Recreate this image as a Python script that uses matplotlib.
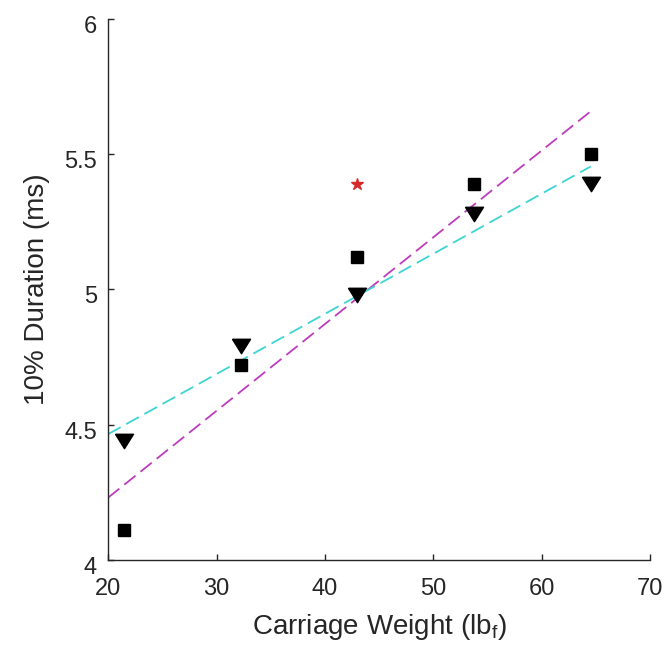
import numpy as np
import matplotlib
matplotlib.use("Agg")
import matplotlib.pyplot as plt
import matplotlib.transforms as mtransforms
from matplotlib.ticker import FuncFormatter

plt.rcParams["font.family"] = ["Liberation Sans", "DejaVu Sans"]

# carriage weights (lbf) and 10% durations (ms)
weights = [21.5, 32.25, 43.0, 53.75, 64.5]
dur_square = [4.11, 4.72, 5.12, 5.39, 5.50]
dur_tri = [4.44, 4.79, 4.98, 5.28, 5.39]
star_weight = [43.0]
star_dur = [5.39]

x_ticks = [20, 30, 40, 50, 60, 70]
y_ticks = [4, 4.5, 5, 5.5, 6]

INK = "#262626"

fig = plt.figure(figsize=(6.67, 6.48), dpi=100)
ax = fig.add_axes([0.162, 0.136, 0.813, 0.835])

w = np.array(weights)
x_fit = np.array([20, w.max()])

# least-squares lines through each series
p_sq = np.polyfit(w, dur_square, 1)
p_tr = np.polyfit(w, dur_tri, 1)
ax.plot(x_fit, np.polyval(p_sq, x_fit), color="#bd3cbd", lw=1.3,
        dashes=(8, 3.5))
ax.plot(x_fit, np.polyval(p_tr, x_fit), color="#3dd4d4", lw=1.3,
        dashes=(8, 3.5))

# wide, flat down-triangle
tri_down = [(-1, 0.8), (1, 0.8), (0, -0.8), (-1, 0.8)]
ax.plot(weights, dur_square, "s", color="black", ms=8, ls="none")
ax.plot(weights, dur_tri, marker=tri_down, color="black", ms=13, ls="none")
ax.plot(star_weight, star_dur, "*", color="#d42a2a", ms=9, ls="none")

ax.set_xlim(20, 70)
ax.set_ylim(4, 6)
ax.set_xticks(x_ticks)
ax.set_yticks(y_ticks)
ax.yaxis.set_major_formatter(FuncFormatter(lambda v, _: f"{v:g}"))

for side in ("top", "right"):
    ax.spines[side].set_visible(False)
for side in ("left", "bottom"):
    ax.spines[side].set_color(INK)
    ax.spines[side].set_linewidth(1.0)
ax.tick_params(direction="in", length=4, width=1, color=INK,
               labelsize=17, labelcolor=INK)
ax.tick_params(axis="x", pad=13)
ax.tick_params(axis="y", pad=8)

# y tick labels sit slightly below their ticks
shift = mtransforms.ScaledTranslation(0, -4 / 72, fig.dpi_scale_trans)
for lab in ax.get_yticklabels():
    lab.set_transform(lab.get_transform() + shift)

ax.set_xlabel("Carriage Weight (lb$_\\mathregular{f}$)", fontsize=20,
              color=INK, labelpad=9)
ax.set_ylabel("10% Duration (ms)", fontsize=20, color=INK, labelpad=10)

fig.savefig("out.png", dpi=100)
